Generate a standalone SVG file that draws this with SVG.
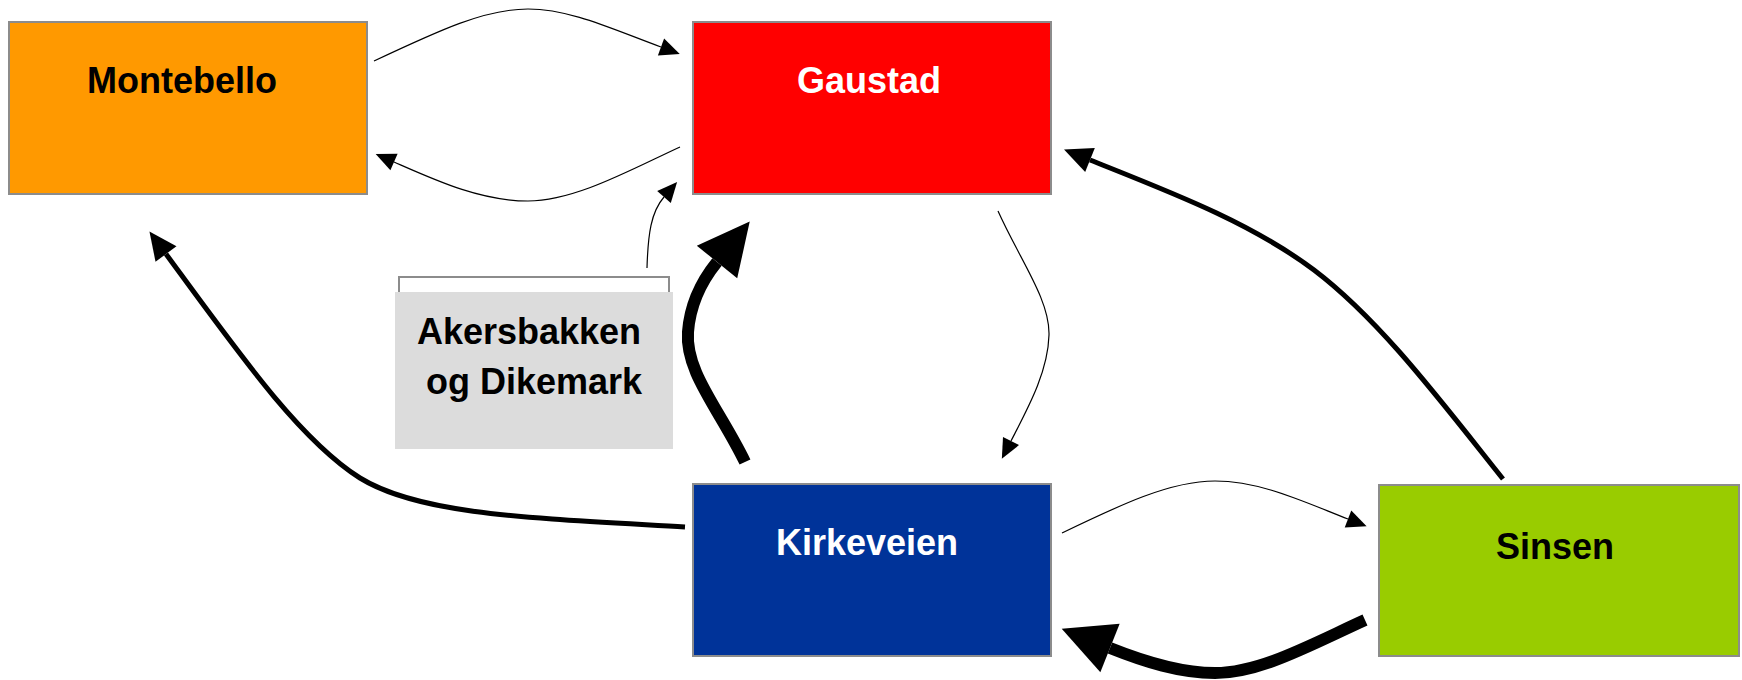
<svg xmlns="http://www.w3.org/2000/svg" width="1742" height="680" viewBox="0 0 1742 680">
<style>
.box{stroke:#8c8c8c;stroke-width:2}
.lbl{font-family:"Liberation Sans",Arial,sans-serif;font-weight:bold;font-size:36px;text-anchor:middle}
.c{fill:none;stroke:#000}
.thin{stroke-width:1.2;marker-end:url(#ah1)}
.med{stroke-width:5;marker-end:url(#ah2)}
.thick{stroke-width:12;marker-end:url(#ah3)}
</style>
<defs>
<marker id="ah1" markerUnits="userSpaceOnUse" markerWidth="22" markerHeight="22" refX="0" refY="9" orient="auto" overflow="visible"><path d="M0,0 L20,9 L0,18 Z" fill="#000"/></marker>
<marker id="ah2" markerUnits="userSpaceOnUse" markerWidth="30" markerHeight="30" refX="0" refY="13" orient="auto" overflow="visible"><path d="M0,0 L28,13 L0,26 Z" fill="#000"/></marker>
<marker id="ah3" markerUnits="userSpaceOnUse" markerWidth="60" markerHeight="60" refX="0" refY="26" orient="auto" overflow="visible"><path d="M0,0 L52,26 L0,52 Z" fill="#000"/></marker>
</defs>
<rect width="1742" height="680" fill="#fff"/>
<g id="montebello">
<rect class="box" x="9" y="22" width="358" height="172" fill="#ff9900"/>
<text class="lbl" x="182" y="93" fill="#000">Montebello</text>
</g>
<g id="gaustad">
<rect class="box" x="693" y="22" width="358" height="172" fill="#ff0000"/>
<text class="lbl" x="869" y="93" fill="#fff">Gaustad</text>
</g>
<g id="kirkeveien">
<rect class="box" x="693" y="484" width="358" height="172" fill="#003399"/>
<text class="lbl" x="867" y="555" fill="#fff">Kirkeveien</text>
</g>
<g id="sinsen">
<rect class="box" x="1379" y="485" width="360" height="171" fill="#99cc00"/>
<text class="lbl" x="1555" y="559" fill="#000">Sinsen</text>
</g>
<g id="akersbakken">
<rect x="399" y="277" width="270" height="160" fill="none" stroke="#8c8c8c" stroke-width="2"/>
<rect x="395" y="292" width="278" height="157" fill="#dcdcdc"/>
<text class="lbl" x="529" y="344" fill="#000">Akersbakken</text>
<text class="lbl" x="534" y="394" fill="#000">og Dikemark</text>
</g>
<g id="connectors">
<path class="c thin" d="M374,61 C440,30 485,9 528,9 C570,9 612,29 661,47"/>
<path class="c thin" d="M680,147 C630,170 575,201 528,201 C480,201 435,180 394,162"/>
<path class="c thin" d="M647,268 C648,234 651,212 664,197"/>
<path class="c thin" d="M998,211 C1020,260 1050,300 1049,335 C1048,372 1028,408 1011,441"/>
<path class="c thin" d="M1062,533 C1120,505 1170,481 1215,481 C1260,481 1302,501 1348,519"/>
<path class="c med" d="M685,527 C530,518 420,515 360,478 C300,440 240,355 166,254"/>
<path class="c med" d="M1503,479 C1440,400 1380,320 1314,270 C1250,222 1170,192 1090,160"/>
<path class="c thick" d="M745,462 C720,410 685,372 688,332 C690,305 700,283 717,262"/>
<path class="c thick" d="M1365,620 C1310,645 1260,673 1215,673 C1180,673 1145,662 1110,648"/>
</g>
</svg>
